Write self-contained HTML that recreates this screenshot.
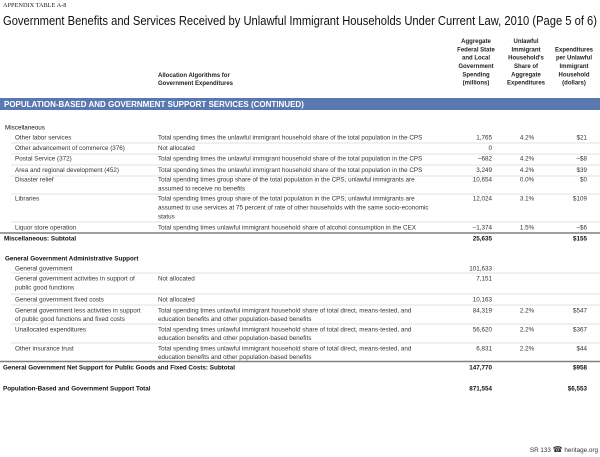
<!DOCTYPE html>
<html><head><meta charset="utf-8"><style>
html,body{margin:0;padding:0;background:#fff;}
svg{display:block;font-family:"Liberation Sans",sans-serif;}
</style></head><body>
<svg width="600" height="457" viewBox="0 0 600 457" xmlns="http://www.w3.org/2000/svg">
<text x="3" y="7" font-family="Liberation Serif" font-size="6.3" fill="#222">APPENDIX TABLE A-8</text>
<text x="3" y="25" font-size="12.5" fill="#111" textLength="594" lengthAdjust="spacingAndGlyphs">Government Benefits and Services Received by Unlawful Immigrant Households Under Current Law, 2010 (Page 5 of 6)</text>
<g font-size="6" font-weight="bold" fill="#222" text-anchor="middle">
<text x="476" y="43">Aggregate</text><text x="476" y="51.3">Federal State</text><text x="476" y="59.6">and Local</text><text x="476" y="68">Government</text><text x="476" y="76.3">Spending</text><text x="476" y="84.6">(millions)</text>
<text x="526" y="43">Unlawful</text><text x="526" y="51.3">Immigrant</text><text x="526" y="59.6">Household's</text><text x="526" y="68">Share of</text><text x="526" y="76.3">Aggregate</text><text x="526" y="84.6">Expenditures</text>
<text x="574" y="51.3">Expenditures</text><text x="574" y="59.6">per Unlawful</text><text x="574" y="68">Immigrant</text><text x="574" y="76.3">Household</text><text x="574" y="84.6">(dollars)</text>
</g>
<g font-size="6" font-weight="bold" fill="#222"><text x="158" y="77">Allocation Algorithms for</text><text x="158" y="85">Government Expenditures</text></g>
<rect x="0" y="98" width="600" height="12" fill="#5a78b0"/>
<text x="4" y="107" font-size="8" font-weight="bold" fill="#fff">POPULATION-BASED AND GOVERNMENT SUPPORT SERVICES (CONTINUED)</text>
<g stroke="#d8d8d8" stroke-width="0.8">
<line x1="11" y1="143" x2="600" y2="143"/><line x1="11" y1="154" x2="600" y2="154"/><line x1="11" y1="165" x2="600" y2="165"/><line x1="11" y1="176" x2="600" y2="176"/><line x1="11" y1="194" x2="600" y2="194"/><line x1="11" y1="222" x2="600" y2="222"/>
<line x1="11" y1="273" x2="600" y2="273"/><line x1="11" y1="294" x2="600" y2="294"/><line x1="11" y1="305" x2="600" y2="305"/><line x1="11" y1="324" x2="600" y2="324"/><line x1="11" y1="343" x2="600" y2="343"/>
</g>
<line x1="0" y1="233" x2="600" y2="233" stroke="#808080" stroke-width="1.5"/>
<line x1="0" y1="361.5" x2="600" y2="361.5" stroke="#808080" stroke-width="1.5"/>
<g font-size="6.3" fill="#333">
<text x="5" y="129.5" fill="#111">Miscellaneous</text>
<text x="15" y="139.5">Other labor services</text><text x="158" y="139.5">Total spending times the unlawful immigrant household share of the total population in the CPS</text>
<text x="15" y="150">Other advancement of commerce (376)</text><text x="158" y="150">Not allocated</text>
<text x="15" y="160.5">Postal Service (372)</text><text x="158" y="160.5">Total spending times the unlawful immigrant household share of the total population in the CPS</text>
<text x="15" y="172">Area and regional development (452)</text><text x="158" y="172">Total spending times the unlawful immigrant household share of the total population in the CPS</text>
<text x="15" y="181.5">Disaster relief</text><text x="158" y="181.5">Total spending times group share of the total population in the CPS; unlawful immigrants are</text><text x="158" y="190.5">assumed to receive no benefits</text>
<text x="15" y="200.5">Libraries</text><text x="158" y="200.5">Total spending times group share of the total population in the CPS; unlawful immigrants are</text><text x="158" y="209.5">assumed to use services at 75 percent of rate of other households with the same socio-economic</text><text x="158" y="218.5">status</text>
<text x="15" y="229.5">Liquor store operation</text><text x="158" y="229.5">Total spending times unlawful immigrant household share of alcohol consumption in the CEX</text>
<text x="4" y="240.5" font-weight="bold" fill="#111">Miscellaneous: Subtotal</text>
<text x="5" y="260.5" font-weight="bold" fill="#111">General Government Administrative Support</text>
<text x="15" y="270.5">General government</text>
<text x="15" y="280.5">General government activities in support of</text><text x="15" y="289.5">public good functions</text><text x="158" y="280.5">Not allocated</text>
<text x="15" y="301.5">General government fixed costs</text><text x="158" y="301.5">Not allocated</text>
<text x="15" y="312.5">General government less activities in support</text><text x="15" y="321">of public good functions and fixed costs</text><text x="158" y="312.5">Total spending times unlawful immigrant household share of total direct, means-tested, and</text><text x="158" y="321">education benefits and other population-based benefits</text>
<text x="15" y="331.5">Unallocated expenditures</text><text x="158" y="331.5">Total spending times unlawful immigrant household share of total direct, means-tested, and</text><text x="158" y="340">education benefits and other population-based benefits</text>
<text x="15" y="350.5">Other insurance trust</text><text x="158" y="350.5">Total spending times unlawful immigrant household share of total direct, means-tested, and</text><text x="158" y="359">education benefits and other population-based benefits</text>
<text x="3" y="369.5" font-weight="bold" fill="#111">General Government Net Support for Public Goods and Fixed Costs: Subtotal</text>
<text x="3" y="390.5" font-weight="bold" fill="#111">Population-Based and Government Support Total</text>
</g>
<g font-size="6.3" fill="#333" text-anchor="end">
<text x="492" y="139.5">1,765</text><text x="492" y="150">0</text><text x="492" y="160.5">–682</text><text x="492" y="172">3,249</text><text x="492" y="181.5">10,654</text><text x="492" y="200.5">12,024</text><text x="492" y="229.5">–1,374</text>
<text x="492" y="240.5" font-weight="bold" fill="#111">25,635</text>
<text x="492" y="270.5">101,633</text><text x="492" y="280.5">7,151</text><text x="492" y="301.5">10,163</text><text x="492" y="312.5">84,319</text><text x="492" y="331.5">56,620</text><text x="492" y="350.5">6,831</text>
<text x="492" y="369.5" font-weight="bold" fill="#111">147,770</text><text x="492" y="390.5" font-weight="bold" fill="#111">871,554</text>
<text x="587" y="139.5">$21</text><text x="587" y="160.5">–$8</text><text x="587" y="172">$39</text><text x="587" y="181.5">$0</text><text x="587" y="200.5">$109</text><text x="587" y="229.5">–$6</text>
<text x="587" y="240.5" font-weight="bold" fill="#111">$155</text>
<text x="587" y="312.5">$547</text><text x="587" y="331.5">$367</text><text x="587" y="350.5">$44</text>
<text x="587" y="369.5" font-weight="bold" fill="#111">$958</text><text x="587" y="390.5" font-weight="bold" fill="#111">$6,553</text>
</g>
<g font-size="6.3" fill="#333" text-anchor="middle">
<text x="527" y="139.5">4.2%</text><text x="527" y="160.5">4.2%</text><text x="527" y="172">4.2%</text><text x="527" y="181.5">0.0%</text><text x="527" y="200.5">3.1%</text><text x="527" y="229.5">1.5%</text>
<text x="527" y="312.5">2.2%</text><text x="527" y="331.5">2.2%</text><text x="527" y="350.5">2.2%</text>
</g>
<text x="598" y="452" font-size="6.3" fill="#333" text-anchor="end">SR 133 <tspan font-size="8">☎</tspan> heritage.org</text>
</svg>
</body></html>
